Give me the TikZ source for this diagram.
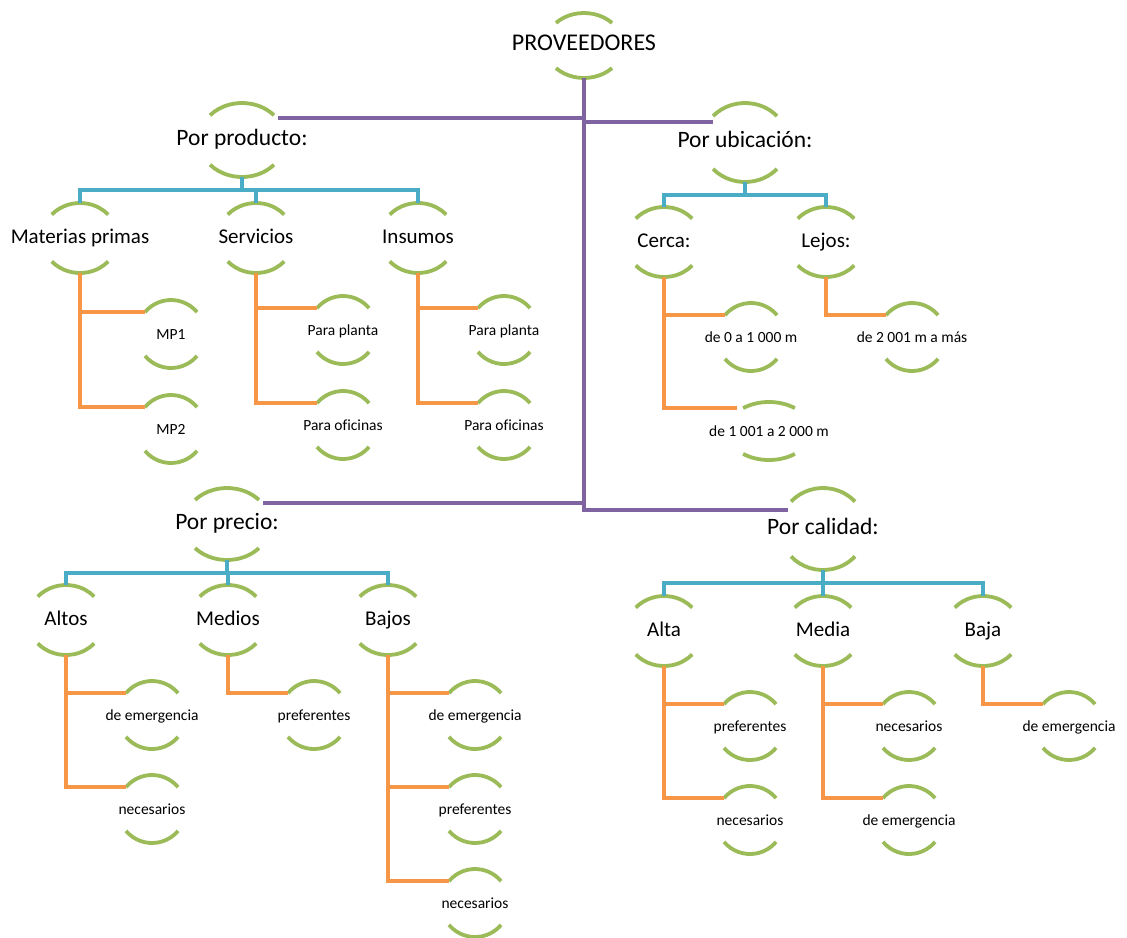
\documentclass[tikz,border=0pt]{standalone}
\usepackage{fontspec}
\setmainfont{Carlito}[Ligatures=NoCommon]
\definecolor{pvpurple}{RGB}{128,100,162}
\definecolor{pvblue}{RGB}{75,172,198}
\definecolor{pvorange}{RGB}{247,150,70}
\definecolor{pvgreen}{RGB}{155,187,89}
% two green arcs round a node: name, x radius, y radius, angle
\newcommand{\arcos}[4]{%
  \draw[arco] (#1.center) ++(180-#4:#2 and #3) arc[start angle=180-#4,end angle=#4,x radius=#2,y radius=#3]
    (#1.center) ++(180+#4:#2 and #3) arc[start angle=180+#4,end angle=360-#4,x radius=#2,y radius=#3];}

\begin{document}
\begin{tikzpicture}[x=1pt,y=-1pt,
    caja/.style={rectangle,inner sep=0pt,text height=1.25em,text depth=.2em},
    raiz/.style={caja,minimum height=65pt,font=\fontsize{24}{28}\selectfont},
    nivel2/.style={caja,font=\fontsize{23.5}{28}\selectfont},
    nivel3/.style={caja,minimum height=70pt,font=\fontsize{21}{25}\selectfont},
    hoja/.style={caja,minimum height=68pt,font=\fontsize{15.5}{18}\selectfont},
    arco/.style={pvgreen,line width=3.8pt},
    tronco/.style={pvpurple,line width=3.8pt},
    rama/.style={pvblue,line width=3.8pt},
    brote/.style={pvorange,line width=3.8pt}]
  \useasboundingbox (0,0) rectangle (1127,937);

  \node[raiz] (prov) at (584,45.5) {PROVEEDORES};

  \node[nivel2,minimum height=74pt] (prod) at (242,140) {Por producto:};
  \node[nivel2,minimum height=79pt] (ubic) at (745,142.5) {Por ubicación:};
  \node[nivel2,minimum height=72pt] (prec) at (227,524) {Por precio:};
  \node[nivel2,minimum height=82pt] (cal) at (823,529) {Por calidad:};

  \node[nivel3] (mat) at (80,238) {Materias primas};
  \node[nivel3] (serv) at (256,238) {Servicios};
  \node[nivel3] (insu) at (418,238) {Insumos};
  \node[nivel3] (cerca) at (664,242) {Cerca:};
  \node[nivel3] (lejos) at (826,242) {Lejos:};
  \node[nivel3] (altos) at (66,620) {Altos};
  \node[nivel3] (medios) at (228,620) {Medios};
  \node[nivel3] (bajos) at (388,620) {Bajos};
  \node[nivel3] (alta) at (664,631) {Alta};
  \node[nivel3] (media) at (823,631) {Media};
  \node[nivel3] (baja) at (983,631) {Baja};

  \node[hoja] (mp1) at (171,334) {MP1};
  \node[hoja] (mp2) at (171,429) {MP2};
  \node[hoja] (splan) at (343,330) {Para planta};
  \node[hoja] (sofi) at (343,425) {Para oficinas};
  \node[hoja] (iplan) at (504,330) {Para planta};
  \node[hoja] (iofi) at (504,425) {Para oficinas};
  \node[hoja] (cer1) at (751,337) {de 0 a 1 000 m};
  \node[hoja,minimum height=58pt] (cer2) at (769,431) {de 1 001 a 2 000 m};
  \node[hoja] (lej1) at (912,337) {de 2 001 m a más};
  \node[hoja] (altos1) at (152,715) {de emergencia};
  \node[hoja] (altos2) at (152,809) {necesarios};
  \node[hoja] (medios1) at (314,715) {preferentes};
  \node[hoja] (bajos1) at (475,715) {de emergencia};
  \node[hoja] (bajos2) at (475,809) {preferentes};
  \node[hoja] (bajos3) at (475,903) {necesarios};
  \node[hoja] (alta1) at (750,726) {preferentes};
  \node[hoja] (alta2) at (750,820) {necesarios};
  \node[hoja] (media1) at (909,726) {necesarios};
  \node[hoja] (media2) at (909,820) {de emergencia};
  \node[hoja] (baja1) at (1069,726) {de emergencia};

  % arcs
  \arcos{prov}{39pt}{32.5pt}{44}
  \foreach \n/\r in {prod/37pt,ubic/39.5pt,prec/36pt,cal/41pt}
    {\arcos{\n}{43pt}{\r}{42}}
  \foreach \n in {mat,serv,insu,cerca,lejos,altos,medios,bajos,alta,media,baja}
    {\arcos{\n}{38pt}{35pt}{42}}
  \foreach \n in {mp1,mp2,splan,sofi,iplan,iofi,cer1,lej1,altos1,altos2,medios1,
      bajos1,bajos2,bajos3,alta1,alta2,media1,media2,baja1}
    {\arcos{\n}{34pt}{34pt}{40}}
  \arcos{cer2}{42pt}{29pt}{52}

  % purple trunk
  \draw[tronco] (prov.south) |- ([shift={(36pt,22pt)}]prod.center);
  \draw[tronco] (prov.south) |- ([shift={(-32pt,20.5pt)}]ubic.center);
  \draw[tronco] (prov.south) |- ([shift={(36pt,21pt)}]prec.center);
  \draw[tronco] (prov.south) |- ([shift={(-35pt,19pt)}]cal.center);

  % blue branches
  \foreach \p/\c in {prod/mat,prod/serv,prod/insu,ubic/cerca,ubic/lejos,
      prec/altos,prec/medios,prec/bajos,cal/alta,cal/media,cal/baja}
    {\draw[rama] (\p.south) -- ++(0,-13pt) -| (\c.north);}

  % orange twigs
  \foreach \p/\c in {mat/mp1,mat/mp2,serv/splan,serv/sofi,insu/iplan,insu/iofi,
      cerca/cer1,lejos/lej1,altos/altos1,altos/altos2,medios/medios1,
      bajos/bajos1,bajos/bajos2,bajos/bajos3,alta/alta1,alta/alta2,
      media/media1,media/media2,baja/baja1}
    {\draw[brote] (\p.south) |- ([shift={(-26pt,22pt)}]\c.center);}
  \draw[brote] (cerca.south) |- ([shift={(-32pt,23pt)}]cer2.center);
\end{tikzpicture}
\end{document}
